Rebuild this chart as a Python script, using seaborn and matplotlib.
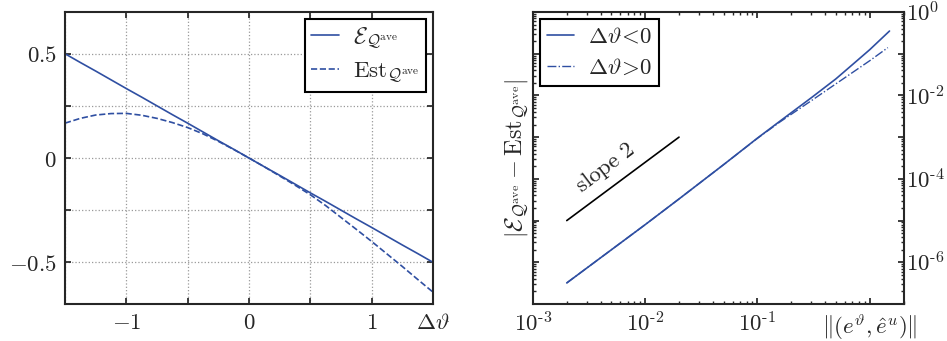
import numpy as np
import seaborn as sns
import matplotlib
matplotlib.use('Agg')
import matplotlib.pyplot as plt
from matplotlib.ticker import LogLocator, NullFormatter

# dados lidos do gráfico
# painel esquerdo
dtheta = [-1.5, -1.375, -1.25, -1.125, -1.0, -0.875, -0.75, -0.625, -0.5,
          -0.375, -0.25, -0.125, 0.0, 0.125, 0.25, 0.375, 0.5, 0.625, 0.75,
          0.875, 1.0, 1.125, 1.25, 1.375, 1.5]
E_ave = [0.5, 0.458, 0.417, 0.375, 0.333, 0.292, 0.25, 0.208, 0.167,
         0.125, 0.083, 0.042, 0.0, -0.042, -0.083, -0.125, -0.167, -0.208, -0.25,
         -0.292, -0.333, -0.375, -0.417, -0.458, -0.5]
Est_ave = [0.167, 0.190, 0.206, 0.213, 0.214, 0.205, 0.190, 0.170, 0.146,
           0.116, 0.080, 0.041, 0.0, -0.042, -0.086, -0.130, -0.176, -0.228, -0.285,
           -0.342, -0.400, -0.460, -0.520, -0.582, -0.643]

# painel direito
norm_neg = [2e-3, 5e-3, 1e-2, 2e-2, 5e-2, 1e-1, 1.58e-1, 3e-1, 5e-1, 7.6e-1, 1.0, 1.5]
err_neg = [3.2e-7, 2.0e-6, 8.0e-6, 3.3e-5, 2.2e-4, 9.5e-4, 2.4e-3, 8.7e-3, 2.5e-2, 6.6e-2, 1.25e-1, 3.5e-1]
norm_pos = [2e-3, 5e-3, 1e-2, 2e-2, 5e-2, 1e-1, 1.58e-1, 3e-1, 5e-1, 7.6e-1, 1.0, 1.45]
err_pos = [3.2e-7, 2.0e-6, 8.0e-6, 3.3e-5, 2.2e-4, 9.4e-4, 2.3e-3, 7.4e-3, 1.9e-2, 4.1e-2, 6.8e-2, 1.4e-1]
slope_x = [2e-3, 2e-2]
slope_y = [1e-5, 1e-3]

sns.set_theme(style='ticks')
plt.rcParams['font.family'] = ['DejaVu Serif']
plt.rcParams['mathtext.fontset'] = 'cm'
plt.rcParams['axes.linewidth'] = 1.5

azul = '#2f4fa2'
fs = 16.5

fig = plt.figure(figsize=(9.47, 3.41), dpi=100)
ax1 = fig.add_axes([0.0686, 0.1085, 0.3886, 0.8563])
ax2 = fig.add_axes([0.5628, 0.1085, 0.3913, 0.8563])

# Gráfico 1
sns.lineplot(x=dtheta, y=E_ave, ax=ax1, color=azul, lw=1.2,
             label=r'$\mathcal{E}_{\mathcal{Q}^{\rm ave}}$')
sns.lineplot(x=dtheta, y=Est_ave, ax=ax1, color=azul, lw=1.2, linestyle='--',
             label=r'$\mathrm{Est}_{\mathcal{Q}^{\rm ave}}$')
ax1.set_xlim(-1.5, 1.5)
ax1.set_ylim(-0.7, 0.7)
ax1.set_xticks([-1.5, -1, -0.5, 0, 0.5, 1, 1.5])
ax1.set_xticklabels(['', r'$-1$', '', r'$0$', '', r'$1$', r'$\mathit{\Delta}\vartheta$'])
ax1.set_yticks([-0.5, -0.25, 0, 0.25, 0.5])
ax1.set_yticklabels([r'$-0.5$', '', r'$0$', '', r'$0.5$'])
ax1.grid(True, linestyle=':', color='#999999', lw=0.9)
ax1.tick_params(direction='in', top=True, right=True, labelsize=fs, length=4, pad=6)
ax1.legend(loc='upper right', fontsize=fs, fancybox=False, edgecolor='black',
           framealpha=1, handlelength=1.2, handletextpad=0.6, borderaxespad=0.3,
           borderpad=0.3, labelspacing=0.4)
ax1.get_legend().get_frame().set_linewidth(1.5)

# Gráfico 2
sns.lineplot(x=norm_neg, y=err_neg, ax=ax2, color=azul, lw=1.2,
             label=r'$\mathit{\Delta}\vartheta\!<\!0$')
sns.lineplot(x=norm_pos, y=err_pos, ax=ax2, color=azul, lw=1.0, linestyle='-.',
             label=r'$\mathit{\Delta}\vartheta\!>\!0$')
ax2.plot(slope_x, slope_y, color='black', lw=1.2)
ax2.text(4.4e-3, 1.8e-4, r'$\mathrm{slope\ 2}$', rotation=37, fontsize=fs,
         ha='center', va='center')
ax2.set_xscale('log')
ax2.set_yscale('log')
ax2.set_xlim(1e-3, 2)
ax2.set_ylim(1e-7, 1)
ax2.set_xticks([1e-3, 1e-2, 1e-1, 1])
ax2.set_xticklabels([r'$10^{\text{-3}}$', r'$10^{\text{-2}}$', r'$10^{\text{-1}}$',
                     r'$\|(e^{\vartheta},\hat{e}^{u})\|$'])
ax2.set_yticks([10.0 ** -k for k in range(0, 8)])
ax2.set_yticklabels([r'$10^{0}$', '', r'$10^{\text{-2}}$', '', r'$10^{\text{-4}}$', '',
                     r'$10^{\text{-6}}$', ''])
ax2.xaxis.set_minor_locator(LogLocator(base=10, subs=np.arange(2, 10)))
ax2.xaxis.set_minor_formatter(NullFormatter())
ax2.yaxis.set_minor_locator(LogLocator(base=10, subs=np.arange(2, 10), numticks=20))
ax2.yaxis.set_minor_formatter(NullFormatter())
ax2.tick_params(which='both', direction='in', top=True, right=True, left=True,
                labelleft=False, labelright=True, labelsize=fs)
ax2.tick_params(axis='x', pad=6)
ax2.tick_params(axis='y', pad=2)
ax2.tick_params(which='major', length=4)
ax2.tick_params(which='minor', length=2)
ax2.set_ylabel(r'$\left|\mathcal{E}_{\mathcal{Q}^{\rm ave}}-\mathrm{Est}_{\mathcal{Q}^{\rm ave}}\right|$',
               fontsize=fs + 1, labelpad=2)
ax2.legend(loc='upper left', fontsize=fs, fancybox=False, edgecolor='black',
           framealpha=1, handlelength=1.2, handletextpad=0.6, borderaxespad=0.3,
           borderpad=0.3, labelspacing=0.4)
ax2.get_legend().get_frame().set_linewidth(1.5)

plt.savefig('out.png', dpi=100)
